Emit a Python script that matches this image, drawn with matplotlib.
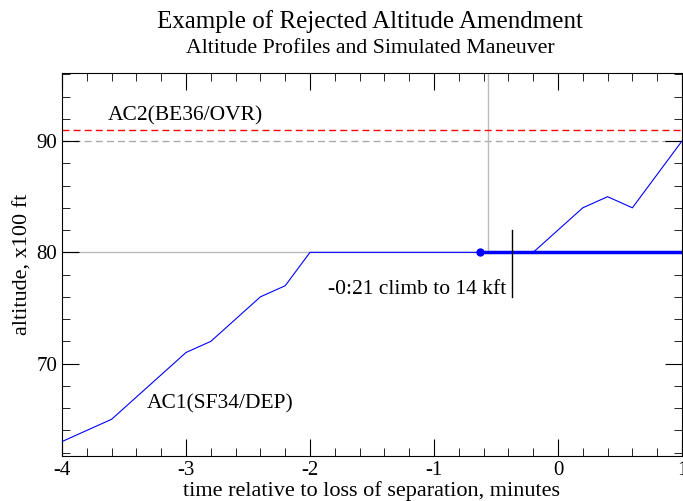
import numpy as np
import matplotlib.pyplot as plt
from matplotlib.ticker import MultipleLocator

plt.rcParams['font.family'] = ['Liberation Serif', 'DejaVu Serif']
plt.rcParams['axes.unicode_minus'] = False

# AC1 altitude profile (minutes, hundreds of ft)
ac1_t = [-4.0, -3.6, -3.0, -2.8, -2.4, -2.2, -2.0, -0.63, -0.2, 0.2, 0.4, 0.6, 1.0]
ac1_alt = [63, 65, 71, 72, 76, 77, 80, 80, 80, 84, 85, 84, 90]

# simulated maneuver (level-off)
man_t = [-0.63, 1.0]
man_alt = [80, 80]

ac2_alt = 91
ac1_assigned = 80
ac2_ref = 90
los_time = -0.565
amend_time = -0.37
amend_span = [76, 82]

fig = plt.figure(figsize=(6.83, 5.01), dpi=100)
ax = fig.add_axes([0.0908, 0.0898, 0.9077, 0.7642])

ax.set_xlim(-4, 1)
ax.set_ylim(61.7, 96.1)

ax.axhline(ac1_assigned, color='#bbbbbb', lw=1, zorder=1)
ax.axhline(ac2_ref, color='#aaaaaa', lw=1, ls=(0, (5, 3)), zorder=1)
ax.axhline(ac2_alt, color='red', lw=1, ls=(0, (5, 3)), zorder=2)
ax.plot([los_time, los_time], [ac1_assigned, 96.1], color='#bbbbbb', lw=1, zorder=1)

ax.plot(ac1_t, ac1_alt, color='blue', lw=0.8, zorder=3)
ax.plot(man_t, man_alt, color='blue', lw=2.5, zorder=4)
ax.plot(man_t[0], man_alt[0], 'o', color='blue', ms=5, zorder=5)
ax.plot([amend_time, amend_time], amend_span, color='black', lw=1, zorder=5)

ax.text(amend_time - 0.05, 76.7, '-0:21 climb to 14 kft', ha='right', va='center', fontsize=15.5)
ax.text(-3.63, 92.3, 'AC2(BE36/OVR)', ha='left', va='center', fontsize=15.5)
ax.text(-3.32, 66.4, 'AC1(SF34/DEP)', ha='left', va='center', fontsize=15.5)

ax.xaxis.set_major_locator(MultipleLocator(1))
ax.xaxis.set_minor_locator(MultipleLocator(0.2))
ax.yaxis.set_major_locator(MultipleLocator(10))
ax.yaxis.set_minor_locator(MultipleLocator(2))
ax.tick_params(which='both', direction='in', top=True, right=True, labelsize=15)
ax.tick_params(which='major', length=12)
ax.tick_params(which='minor', length=6)

ax.set_xlabel('time relative to loss of separation, minutes', fontsize=16, labelpad=1)
ax.set_ylabel('altitude, x100 ft', fontsize=16, labelpad=3)

fig.text(0.542, 0.958, 'Example of Rejected Altitude Amendment', ha='center', va='center', fontsize=18)
fig.text(0.542, 0.903, 'Altitude Profiles and Simulated Maneuver', ha='center', va='center', fontsize=15.7)

fig.savefig('out.png', dpi=100)
